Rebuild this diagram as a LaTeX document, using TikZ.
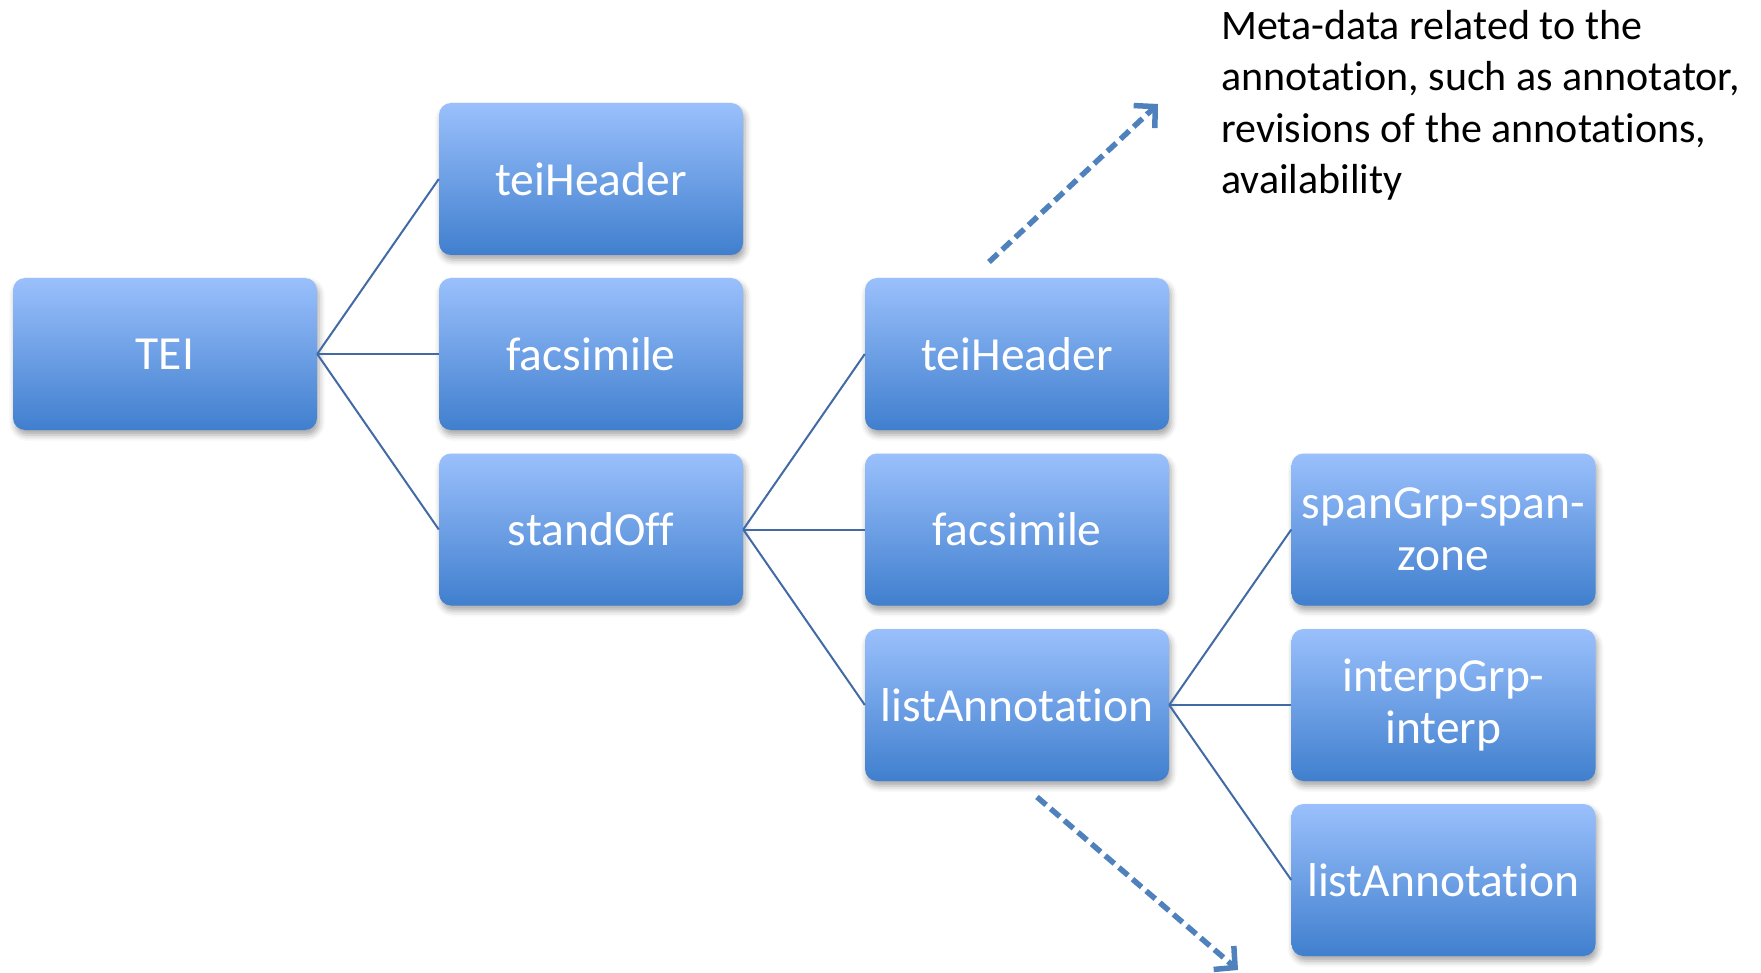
\documentclass[tikz,border=0pt]{standalone}
\usepackage{fontspec}
\setmainfont{Carlito}[Ligatures=NoCommon]
\usetikzlibrary{arrows.meta,shadows.blur}
\definecolor{btop}{RGB}{154,192,252}
\definecolor{bmid}{RGB}{118,162,230}
\definecolor{bbot}{RGB}{64,127,206}
\definecolor{connc}{RGB}{66,106,166}
\definecolor{arrc}{RGB}{79,129,189}
\tikzset{
  x=1pt,y=-1pt,
  treebox/.style={draw=none, rounded corners=12pt, minimum width=304pt, minimum height=152pt,
    inner sep=0pt, top color=btop, middle color=bmid, bottom color=bbot, text=white,
    font=\fontsize{47.5}{52}\selectfont, align=center,
    blur shadow={shadow xshift=2pt, shadow yshift=-5pt, shadow blur radius=6pt, shadow opacity=35}},
  conn/.style={draw=connc, line width=2pt},
  dasharrow/.style={draw=arrc, line width=5.5pt, dash pattern=on 12pt off 6pt,
    -{Straight Barb[length=15pt,width=31pt,line width=5.5pt]}},
  note/.style={anchor=base west, inner sep=0pt, font=\fontsize{42}{51.5}\selectfont, text=black}
}
\begin{document}
\begin{tikzpicture}
\useasboundingbox (0,0) rectangle (1761,973);
\node[treebox] (tei) at (165,354) {TEI};
\node[treebox] (h1) at (591,179) {teiHeader};
\node[treebox] (f1) at (591,354) {facsimile};
\node[treebox] (so) at (591,529.5) {standOff};
\node[treebox] (h2) at (1017,354) {teiHeader};
\node[treebox] (f2) at (1017,529.5) {facsimile};
\node[treebox] (la) at (1017,705) {listAnnotation};
\node[treebox] (sp) at (1443.5,529.5) {spanGrp-span-\\zone};
\node[treebox] (ip) at (1443.5,705) {interpGrp-\\interp};
\node[treebox] (la2) at (1443.5,880) {listAnnotation};

\draw[conn] (tei.east) -- (h1.west);
\draw[conn] (tei.east) -- (f1.west);
\draw[conn] (tei.east) -- (so.west);
\draw[conn] (so.east) -- (h2.west);
\draw[conn] (so.east) -- (f2.west);
\draw[conn] (so.east) -- (la.west);
\draw[conn] (la.east) -- (sp.west);
\draw[conn] (la.east) -- (ip.west);
\draw[conn] (la.east) -- (la2.west);

\coordinate (a1s) at (989,262);
\coordinate (a1e) at (1158,104);
\coordinate (a2s) at (1037,797);
\coordinate (a2e) at (1238,970);
\draw[dasharrow] (a1s) -- (a1e);
\draw[dasharrow] (a2s) -- (a2e);

\node[note] (t1) at (1221,39.5) {Meta-data related to the};
\node[note] (t2) at (1221,91) {annotation, such as annotator,};
\node[note] (t3) at (1221,142.5) {revisions of the annotations,};
\node[note] (t4) at (1221,194) {availability};
\end{tikzpicture}
\end{document}
